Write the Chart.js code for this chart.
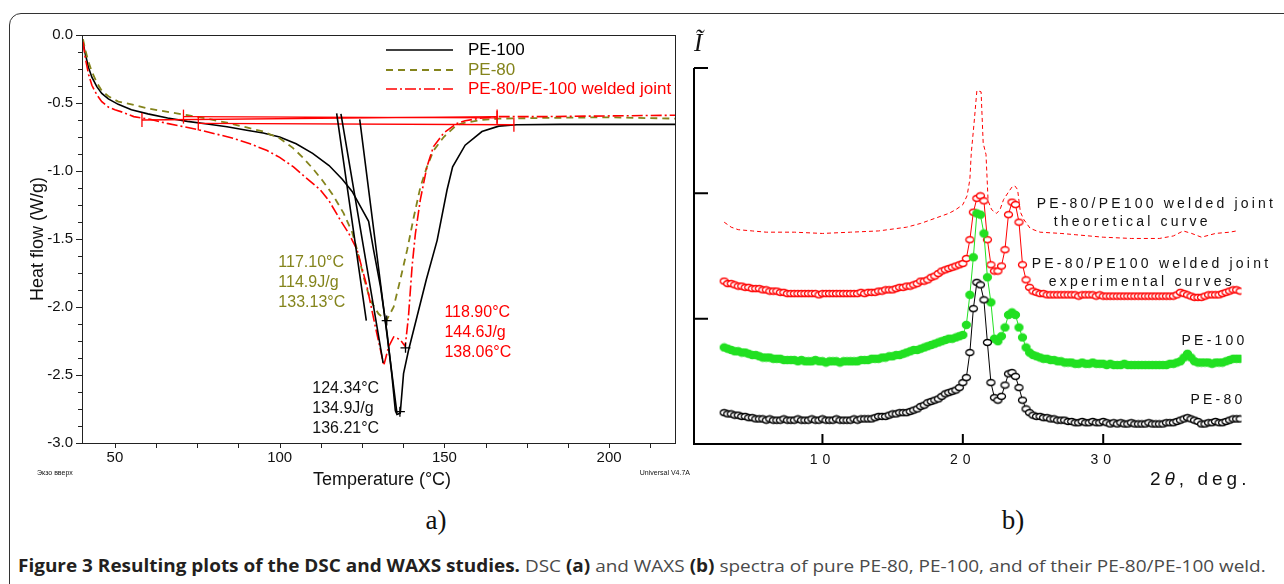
<!DOCTYPE html>
<html>
<head>
<meta charset="utf-8">
<script src="https://cdn.jsdelivr.net/npm/chart.js@4.4.0/dist/chart.umd.min.js"></script>
<style>
    body { margin: 0; width: 1284px; height: 584px; overflow: hidden; position: relative; background: #fff; font-family: 'Liberation Sans', Arial, sans-serif; }
    #frame { position: absolute; left: 9px; top: 13px; width: 1400px; height: 700px; border: 1.5px solid #333; border-radius: 12px; }
    #dsc { position: absolute; left: 0; top: 0; }
    #waxs { position: absolute; left: 680px; top: 0; }
    .panel { position: absolute; top: 505px; width: 60px; text-align: center; font-family: 'Liberation Serif', serif; font-size: 27px; color: #111; }
    #caption { position: absolute; left: 18px; top: 554px; white-space: nowrap; font-family: 'Open Sans', 'Liberation Sans Narrow', sans-serif; font-size: 17px; color: #4a4a4a; transform-origin: left center; }
    #caption b { color: #231f20; font-weight: 700; }
</style>
</head>
<body>
<div id="frame"></div>
<canvas id="dsc" width="700" height="500"></canvas>
<canvas id="waxs" width="604" height="500"></canvas>
<div class="panel" style="left:406px">a)</div>
<div class="panel" style="left:983px">b)</div>
<div id="caption"><b>Figure 3 Resulting plots of the DSC and WAXS studies.</b> DSC <b>(a)</b> and WAXS <b>(b)</b> spectra of pure PE-80, PE-100, and of their PE-80/PE-100 weld.</div>

<script>
// ---- DSC (a) ----
const dscTempTicks = [50, 100, 150, 200];
const dscFlowTicks = [0, -0.5, -1, -1.5, -2, -2.5, -3];

const pe100Temp = [40.3, 41, 42, 43, 44.5, 46, 48, 51, 55, 60, 66, 72, 78, 84, 90, 95, 100, 105, 110, 115,
    119, 122, 124.5, 127, 128.5, 130.6, 132.6, 134.1, 135.1, 135.6, 136.6, 137.6, 139.1, 141.7, 144.5, 147.8,
    150.8, 152.5, 156.3, 161.4, 166.5, 172, 185, 200, 220];
const pe100Flow = [-0.05, -0.14, -0.24, -0.31, -0.38, -0.43, -0.47, -0.51, -0.55, -0.58, -0.61, -0.635, -0.655,
    -0.675, -0.70, -0.72, -0.75, -0.80, -0.87, -0.96, -1.06, -1.15, -1.26, -1.37, -1.58, -1.85, -2.19, -2.51,
    -2.76, -2.79, -2.78, -2.49, -2.32, -2.07, -1.80, -1.51, -1.14, -0.97, -0.81, -0.71, -0.67, -0.66, -0.657,
    -0.657, -0.657];

const pe80Temp = [40.3, 41, 42, 43, 44.5, 46, 48, 51, 55, 60, 66, 72, 78, 84, 90, 95, 100, 104, 107, 110,
    113, 116, 119.4, 122, 123.5, 125.5, 127.5, 130, 132.4, 134.6, 136.6, 138.7, 140.7, 142.7, 144.7, 146.7,
    149.8, 153.8, 156.3, 161.4, 166.5, 180, 200, 220];
const pe80Flow = [-0.03, -0.11, -0.20, -0.27, -0.35, -0.41, -0.45, -0.49, -0.51, -0.54, -0.565, -0.59, -0.615,
    -0.645, -0.68, -0.71, -0.76, -0.83, -0.90, -0.98, -1.07, -1.17, -1.31, -1.45, -1.58, -1.78, -1.95, -2.05,
    -2.10, -2.00, -1.80, -1.58, -1.34, -1.12, -0.97, -0.85, -0.75, -0.66, -0.645, -0.625, -0.615, -0.61,
    -0.605, -0.615];

const weldTemp = [40.3, 41, 42, 43, 44.5, 46, 48, 50, 52.6, 55.7, 60.7, 65.8, 70, 75.9, 81, 86, 91, 96.2, 100,
    104.2, 108, 112.4, 115, 118.4, 121, 123.5, 126.5, 129, 131.1, 131.6, 133.1, 134.6, 136.6, 138.1, 139.1,
    140.2, 141.2, 142.7, 144.7, 146.7, 149.8, 153.8, 156.3, 161.4, 166, 180, 200, 220];
const weldFlow = [-0.05, -0.17, -0.29, -0.37, -0.44, -0.49, -0.53, -0.55, -0.57, -0.60, -0.62, -0.65, -0.67,
    -0.70, -0.73, -0.76, -0.80, -0.85, -0.90, -0.97, -1.05, -1.14, -1.22, -1.36, -1.46, -1.58, -1.85, -2.14,
    -2.37, -2.43, -2.29, -2.22, -2.24, -2.29, -2.07, -1.70, -1.46, -1.21, -0.97, -0.82, -0.72, -0.65, -0.63,
    -0.61, -0.60, -0.60, -0.595, -0.59];

// onset tangents [T1, HF1, T2, HF2]
const tangentLines = [[117.3, -0.576, 126.3, -2.10], [118.6, -0.58, 131.4, -2.41], [124.3, -0.62, 135.6, -2.78]];
// integration baselines [T1, HF1, T2, HF2]
const baselineSegments = [[58.2, -0.625, 166, -0.60], [70.8, -0.60, 166, -0.61], [75.3, -0.65, 171.1, -0.66]];
const peakTemp = [132.5, 138.2, 136.5];
const peakFlow = [-2.10, -2.30, -2.77];

const olive = '#84841c';
const red = '#ff0000';

const dscNotes = [
    { lines: ['117.10°C', '114.9J/g', '133.13°C'], temp: 99.6, flow: -1.67, color: olive },
    { lines: ['118.90°C', '144.6J/g', '138.06°C'], temp: 150.0, flow: -2.04, color: red },
    { lines: ['124.34°C', '134.9J/g', '136.21°C'], temp: 109.9, flow: -2.60, color: '#111' }
];

// ---- WAXS (b) ----
const waxsAngleTicks = [10, 20, 30];
const waxsLevelTicks = [0, 1, 2, 3];

const waxsAngles = [
    3.00, 3.25, 3.50, 3.75, 4.00, 4.25, 4.50, 4.75,
    5.00, 5.25, 5.50, 5.75, 6.00, 6.25, 6.50, 6.75,
    7.00, 7.25, 7.50, 7.75, 8.00, 8.25, 8.50, 8.75,
    9.00, 9.25, 9.50, 9.75, 10.00, 10.25, 10.50, 10.75,
    11.00, 11.25, 11.50, 11.75, 12.00, 12.25, 12.50, 12.75,
    13.00, 13.25, 13.50, 13.75, 14.00, 14.25, 14.50, 14.75,
    15.00, 15.25, 15.50, 15.75, 16.00, 16.25, 16.50, 16.75,
    17.00, 17.25, 17.50, 17.75, 18.00, 18.25, 18.50, 18.75,
    19.00, 19.25, 19.50, 19.75, 20.00, 20.25, 20.50, 20.75,
    21.00, 21.25, 21.50, 21.75, 22.00, 22.25, 22.50, 22.75,
    23.00, 23.25, 23.50, 23.75, 24.00, 24.25, 24.50, 24.75,
    25.00, 25.25, 25.50, 25.75, 26.00, 26.25, 26.50, 26.75,
    27.00, 27.25, 27.50, 27.75, 28.00, 28.25, 28.50, 28.75,
    29.00, 29.25, 29.50, 29.75, 30.00, 30.25, 30.50, 30.75,
    31.00, 31.25, 31.50, 31.75, 32.00, 32.25, 32.50, 32.75,
    33.00, 33.25, 33.50, 33.75, 34.00, 34.25, 34.50, 34.75,
    35.00, 35.25, 35.50, 35.75, 36.00, 36.25, 36.50, 36.75,
    37.00, 37.25, 37.50, 37.75, 38.00, 38.25, 38.50, 38.75,
    39.00, 39.25, 39.50, 39.75];

const pe80Waxs = [
    0.25, 0.24, 0.24, 0.23, 0.23, 0.22, 0.22, 0.21,
    0.21, 0.20, 0.20, 0.20, 0.19, 0.20, 0.19, 0.19,
    0.19, 0.20, 0.19, 0.19, 0.19, 0.20, 0.19, 0.19,
    0.19, 0.20, 0.19, 0.19, 0.20, 0.19, 0.19, 0.19,
    0.20, 0.19, 0.19, 0.19, 0.19, 0.20, 0.19, 0.20,
    0.20, 0.20, 0.20, 0.21, 0.22, 0.22, 0.22, 0.23,
    0.24, 0.24, 0.25, 0.25, 0.25, 0.26, 0.27, 0.28,
    0.30, 0.31, 0.33, 0.34, 0.35, 0.36, 0.38, 0.40,
    0.41, 0.42, 0.43, 0.45, 0.49, 0.53, 0.73, 1.08,
    1.29, 1.27, 1.15, 0.81, 0.49, 0.37, 0.35, 0.38,
    0.47, 0.56, 0.57, 0.54, 0.45, 0.35, 0.28, 0.25,
    0.23, 0.22, 0.22, 0.21, 0.21, 0.20, 0.20, 0.19,
    0.19, 0.19, 0.18, 0.18, 0.17, 0.17, 0.18, 0.17,
    0.17, 0.18, 0.17, 0.17, 0.18, 0.17, 0.16, 0.17,
    0.16, 0.17, 0.16, 0.16, 0.17, 0.16, 0.16, 0.16,
    0.16, 0.17, 0.16, 0.16, 0.16, 0.16, 0.17, 0.17,
    0.17, 0.18, 0.19, 0.20, 0.21, 0.20, 0.19, 0.18,
    0.16, 0.16, 0.17, 0.17, 0.18, 0.17, 0.17, 0.18,
    0.19, 0.20, 0.20, 0.20];

const pe100Waxs = [
    0.77, 0.76, 0.75, 0.74, 0.74, 0.73, 0.73, 0.72,
    0.71, 0.71, 0.70, 0.69, 0.69, 0.69, 0.68, 0.68,
    0.68, 0.67, 0.67, 0.67, 0.67, 0.66, 0.67, 0.66,
    0.66, 0.66, 0.67, 0.66, 0.66, 0.65, 0.66, 0.66,
    0.66, 0.65, 0.66, 0.66, 0.66, 0.66, 0.66, 0.67,
    0.67, 0.67, 0.68, 0.68, 0.68, 0.69, 0.69, 0.70,
    0.70, 0.71, 0.71, 0.72, 0.73, 0.74, 0.75, 0.75,
    0.76, 0.77, 0.78, 0.79, 0.80, 0.81, 0.82, 0.83,
    0.84, 0.84, 0.85, 0.86, 0.87, 0.95, 1.19, 1.49,
    1.84, 1.83, 1.68, 1.33, 1.13, 0.84, 0.82, 0.86,
    0.93, 1.03, 1.05, 1.03, 0.93, 0.85, 0.77, 0.73,
    0.71, 0.70, 0.69, 0.68, 0.68, 0.67, 0.67, 0.66,
    0.66, 0.65, 0.65, 0.65, 0.64, 0.64, 0.65, 0.64,
    0.64, 0.65, 0.64, 0.64, 0.64, 0.63, 0.64, 0.63,
    0.63, 0.63, 0.64, 0.63, 0.63, 0.63, 0.63, 0.63,
    0.63, 0.63, 0.63, 0.63, 0.63, 0.63, 0.63, 0.64,
    0.64, 0.65, 0.66, 0.69, 0.72, 0.69, 0.66, 0.65,
    0.65, 0.65, 0.65, 0.64, 0.65, 0.65, 0.65, 0.66,
    0.67, 0.68, 0.68, 0.68];

const weldWaxs = [
    1.30, 1.28, 1.28, 1.27, 1.26, 1.26, 1.25, 1.25,
    1.24, 1.24, 1.24, 1.23, 1.23, 1.22, 1.22, 1.22,
    1.21, 1.21, 1.20, 1.20, 1.20, 1.20, 1.20, 1.20,
    1.20, 1.20, 1.20, 1.19, 1.20, 1.20, 1.20, 1.20,
    1.20, 1.20, 1.20, 1.20, 1.20, 1.20, 1.20, 1.21,
    1.20, 1.21, 1.21, 1.21, 1.22, 1.22, 1.23, 1.23,
    1.23, 1.24, 1.25, 1.25, 1.26, 1.26, 1.27, 1.28,
    1.30, 1.30, 1.31, 1.33, 1.34, 1.36, 1.38, 1.39,
    1.40, 1.41, 1.42, 1.43, 1.44, 1.48, 1.63, 1.85,
    1.96, 1.98, 1.94, 1.63, 1.43, 1.38, 1.38, 1.42,
    1.55, 1.83, 1.93, 1.91, 1.77, 1.43, 1.31, 1.25,
    1.22, 1.21, 1.20, 1.20, 1.19, 1.19, 1.19, 1.19,
    1.19, 1.19, 1.19, 1.19, 1.19, 1.18, 1.19, 1.19,
    1.19, 1.19, 1.18, 1.19, 1.18, 1.18, 1.18, 1.18,
    1.18, 1.18, 1.18, 1.18, 1.18, 1.18, 1.18, 1.18,
    1.18, 1.18, 1.18, 1.18, 1.18, 1.18, 1.18, 1.18,
    1.18, 1.19, 1.21, 1.20, 1.19, 1.18, 1.17, 1.17,
    1.17, 1.18, 1.19, 1.19, 1.19, 1.19, 1.20, 1.21,
    1.22, 1.23, 1.23, 1.22];

const theoryAngles = [3.0, 3.5, 4.0, 5.0, 6.0, 8.0, 10.0, 12.0, 14.0, 16.0, 17.0, 18.0, 19.0, 19.5, 20.0,
    20.3, 20.5, 20.6, 20.8, 21.0, 21.3, 21.45, 21.65, 21.8, 22.05, 22.4, 22.65, 22.9, 23.25, 23.5, 23.7,
    23.9, 24.1, 24.35, 24.8, 25.5, 27.0, 28.0, 30.0, 32.0, 34.0, 35.0, 35.7, 36.3, 37.0, 38.0, 39.0, 39.5];
const theoryWaxs = [1.77, 1.73, 1.71, 1.70, 1.69, 1.69, 1.68, 1.69, 1.70, 1.73, 1.76, 1.80, 1.84, 1.87, 1.91,
    1.98, 2.11, 2.32, 2.56, 2.82, 2.81, 2.40, 2.31, 1.94, 1.87, 1.84, 1.87, 1.95, 2.01, 2.05, 2.06,
    2.03, 1.85, 1.79, 1.72, 1.69, 1.68, 1.67, 1.65, 1.64, 1.64, 1.66, 1.70, 1.68, 1.65, 1.68, 1.69, 1.70];

const waxsLabels = [
    { text: 'PE-80/PE100 welded joint', angle: 25.26, level: 1.915 },
    { text: 'theoretical curve', angle: 26.47, level: 1.77 },
    { text: 'PE-80/PE100 welded joint', angle: 24.91, level: 1.436 },
    { text: 'experimental curves', angle: 26.12, level: 1.293 },
    { text: 'PE-100', angle: 35.58, level: 0.822 },
    { text: 'PE-80', angle: 36.22, level: 0.351 }
];

const FONT = "'Liberation Sans', Arial, sans-serif";
Chart.defaults.font.family = FONT;

function pairs(xs, ys) {
    return xs.map((x, i) => ({ x: x, y: ys[i] }));
}

function segments(list) {
    const out = [];
    list.forEach(s => {
        out.push({ x: s[0], y: s[1] }, { x: s[2], y: s[3] }, { x: s[2], y: null });
    });
    return out;
}

function ellipseMarker(w, h, fill, stroke) {
    const c = document.createElement('canvas');
    c.width = w + 3;
    c.height = h + 3;
    const g = c.getContext('2d');
    g.beginPath();
    g.ellipse(c.width / 2, c.height / 2, w / 2, h / 2, 0, 0, Math.PI * 2);
    g.fillStyle = fill;
    g.fill();
    g.lineWidth = 1.3;
    g.strokeStyle = stroke;
    g.stroke();
    return c;
}

const dscDecor = {
    id: 'dscDecor',
    afterDraw(chart) {
        const { ctx, chartArea: a, scales: { x, y } } = chart;
        ctx.save();
        ctx.strokeStyle = '#222';
        ctx.lineWidth = 1;
        ctx.strokeRect(Math.round(a.left) + 0.5, Math.round(a.top) + 0.5, a.right - a.left, a.bottom - a.top);

        // outward ticks, minor every 12.5 degC and 0.125 W/g
        ctx.beginPath();
        for (let t = 50; t < 220; t += 12.5) {
            const px = Math.round(x.getPixelForValue(t)) + 0.5;
            ctx.moveTo(px, a.bottom);
            ctx.lineTo(px, a.bottom + 5);
        }
        for (let k = 0; k <= 24; k++) {
            const py = Math.round(y.getPixelForValue(-k * 0.125)) + 0.5;
            const len = k % 4 === 0 ? 6 : 4;
            ctx.moveTo(a.left - len, py);
            ctx.lineTo(a.left, py);
        }
        ctx.stroke();

        // legend
        const rows = [50, 70, 89];
        ctx.font = '17px ' + FONT;
        ctx.textBaseline = 'middle';
        ctx.textAlign = 'left';
        for (let i = 0; i < 3; i++) {
            const ds = chart.data.datasets[i];
            ctx.beginPath();
            ctx.setLineDash(ds.borderDash || []);
            ctx.strokeStyle = ds.borderColor;
            ctx.lineWidth = ds.borderWidth;
            ctx.moveTo(386, rows[i]);
            ctx.lineTo(453, rows[i]);
            ctx.stroke();
            ctx.setLineDash([]);
            ctx.fillStyle = ds.borderColor;
            ctx.fillText(ds.label, 468, rows[i]);
        }

        // peak annotations
        ctx.font = '16px ' + FONT;
        dscNotes.forEach(n => {
            const px = x.getPixelForValue(n.temp);
            const py = y.getPixelForValue(n.flow);
            ctx.fillStyle = n.color;
            n.lines.forEach((s, i) => ctx.fillText(s, px, py + i * 20));
        });

        // axis titles
        ctx.fillStyle = '#111';
        ctx.font = '18px ' + FONT;
        ctx.textAlign = 'center';
        ctx.fillText('Temperature (°C)', 382, 480);
        ctx.save();
        ctx.translate(38, 239);
        ctx.rotate(-Math.PI / 2);
        ctx.fillText('Heat flow (W/g)', 0, 0);
        ctx.restore();

        ctx.font = '7px ' + FONT;
        ctx.textAlign = 'left';
        ctx.fillText('Экзо вверх', 37, 473);
        ctx.textAlign = 'right';
        ctx.fillText('Universal V4.7A', 690, 473);
        ctx.restore();
    }
};

new Chart(document.getElementById('dsc'), {
    type: 'line',
    data: {
        datasets: [
            { label: 'PE-100', data: pairs(pe100Temp, pe100Flow), borderColor: '#000', borderWidth: 1.6, pointRadius: 0, order: 3 },
            { label: 'PE-80', data: pairs(pe80Temp, pe80Flow), borderColor: olive, borderDash: [7, 5], borderWidth: 1.8, pointRadius: 0, order: 2 },
            { label: 'PE-80/PE-100 welded joint', data: pairs(weldTemp, weldFlow), borderColor: red, borderDash: [11, 3, 2, 3], borderWidth: 1.6, pointRadius: 0, order: 1 },
            { label: 'tangents', data: segments(tangentLines), borderColor: '#000', borderWidth: 1.6, pointRadius: 0, spanGaps: false, order: 0 },
            { label: 'baselines', data: segments(baselineSegments), borderColor: red, borderWidth: 1.3, pointRadius: 0, spanGaps: false, order: 0 },
            {
                label: 'limits',
                data: baselineSegments.flatMap(s => [{ x: s[0], y: s[1] }, { x: s[2], y: s[3] }]),
                showLine: false, pointStyle: 'line', rotation: 90, pointRadius: 7, borderColor: red, borderWidth: 1.3, order: 0
            },
            { label: 'peaks', data: pairs(peakTemp, peakFlow), showLine: false, pointStyle: 'cross', pointRadius: 5, borderColor: '#000', borderWidth: 1.3, order: 0 }
        ]
    },
    options: {
        responsive: false,
        animation: false,
        events: [],
        layout: { padding: { left: 0, top: 35, right: 25, bottom: 0 } },
        plugins: { legend: { display: false }, tooltip: { enabled: false } },
        scales: {
            x: {
                type: 'linear', min: 40, max: 220,
                afterFit: s => { s.height = 57; },
                afterBuildTicks: s => { s.ticks = dscTempTicks.map(v => ({ value: v })); },
                grid: { display: false, drawTicks: false },
                border: { display: false },
                ticks: { padding: 6, maxRotation: 0, color: '#111', font: { size: 15 } }
            },
            y: {
                type: 'linear', min: -3, max: 0,
                afterFit: s => { s.width = 82; },
                afterBuildTicks: s => { s.ticks = dscFlowTicks.map(v => ({ value: v })); },
                grid: { display: false, drawTicks: false },
                border: { display: false },
                ticks: { padding: 9, color: '#111', font: { size: 15 }, callback: v => v.toFixed(1) }
            }
        }
    },
    plugins: [dscDecor]
});

const waxsDecor = {
    id: 'waxsDecor',
    beforeDraw(chart) {
        chart.ctx.letterSpacing = '5px';
    },
    afterDraw(chart) {
        const { ctx, chartArea: a, scales: { x, y } } = chart;
        ctx.save();
        ctx.letterSpacing = '0px';
        ctx.strokeStyle = '#000';
        ctx.lineWidth = 2;
        ctx.beginPath();
        ctx.moveTo(a.left, a.top);
        ctx.lineTo(a.left, a.bottom);
        ctx.lineTo(a.right, a.bottom);
        waxsLevelTicks.forEach(v => {
            const py = y.getPixelForValue(v);
            ctx.moveTo(a.left, py);
            ctx.lineTo(a.left + 14, py);
        });
        waxsAngleTicks.forEach(v => {
            const px = x.getPixelForValue(v);
            ctx.moveTo(px, a.bottom);
            ctx.lineTo(px, a.bottom - 10);
        });
        ctx.stroke();

        ctx.fillStyle = '#111';
        ctx.textBaseline = 'middle';
        ctx.textAlign = 'left';
        ctx.font = '14px ' + FONT;
        ctx.letterSpacing = '3.2px';
        waxsLabels.forEach(l => ctx.fillText(l.text, x.getPixelForValue(l.angle), y.getPixelForValue(l.level)));

        // axis titles
        ctx.letterSpacing = '4px';
        let px = 470;
        const py = 480;
        ctx.font = '19px ' + FONT;
        ctx.fillText('2', px, py);
        px += ctx.measureText('2').width;
        ctx.font = 'italic 19px ' + FONT;
        ctx.fillText('θ', px, py);
        px += ctx.measureText('θ').width;
        ctx.font = '19px ' + FONT;
        ctx.fillText(', deg.', px, py);

        ctx.letterSpacing = '0px';
        ctx.font = "italic 25px 'Liberation Serif', serif";
        ctx.fillText('Ĩ', 14, 44);
        ctx.restore();
    }
};

new Chart(document.getElementById('waxs'), {
    type: 'line',
    data: {
        datasets: [
            { label: 'PE-80/PE100 welded joint theoretical curve', data: pairs(theoryAngles, theoryWaxs), borderColor: red, borderWidth: 1, borderDash: [4, 3], pointRadius: 0, order: 4 },
            { label: 'PE-80/PE100 welded joint experimental curves', data: pairs(waxsAngles, weldWaxs), borderColor: red, borderWidth: 1, pointStyle: ellipseMarker(8, 6, '#fff', red), pointRadius: 4, order: 3 },
            { label: 'PE-100', data: pairs(waxsAngles, pe100Waxs), borderColor: '#22e022', borderWidth: 1, pointStyle: ellipseMarker(8, 7, '#22e022', '#22e022'), pointRadius: 4, order: 2 },
            { label: 'PE-80', data: pairs(waxsAngles, pe80Waxs), borderColor: '#000', borderWidth: 1, pointStyle: ellipseMarker(8, 6, '#fff', '#000'), pointRadius: 4, order: 1 }
        ]
    },
    options: {
        responsive: false,
        animation: false,
        events: [],
        layout: { padding: { left: 0, top: 68, right: 42.5, bottom: 0 } },
        plugins: { legend: { display: false }, tooltip: { enabled: false } },
        scales: {
            x: {
                type: 'linear', min: 0.85, max: 39.85,
                afterFit: s => { s.height = 56; },
                afterBuildTicks: s => { s.ticks = waxsAngleTicks.map(v => ({ value: v })); },
                grid: { display: false, drawTicks: false },
                border: { display: false },
                ticks: { padding: 8, maxRotation: 0, color: '#111', font: { size: 14 } }
            },
            y: {
                type: 'linear', min: 0, max: 3,
                afterFit: s => { s.width = 14; },
                grid: { display: false, drawTicks: false },
                border: { display: false },
                ticks: { display: false }
            }
        }
    },
    plugins: [waxsDecor]
});

// fit caption to the reference line width
const caption = document.getElementById('caption');
caption.style.transform = 'scaleX(' + (1248 / caption.scrollWidth) + ')';
</script>
</body>
</html>
